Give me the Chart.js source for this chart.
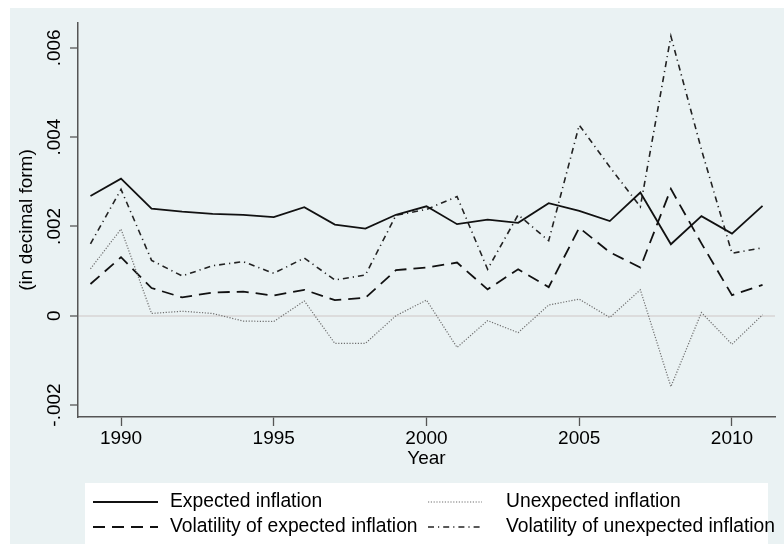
<!DOCTYPE html>
<html>
<head>
<meta charset="utf-8">
<script src="https://cdn.jsdelivr.net/npm/chart.js@4/dist/chart.umd.min.js"></script>
<style>
html,body{margin:0;padding:0;background:#fff;}
#wrap{width:784px;height:544px;position:relative;}
</style>
</head>
<body>
<div id="wrap"><canvas id="c" width="784" height="544"></canvas></div>
<script>
// ---- data ----
const years = [1989,1990,1991,1992,1993,1994,1995,1996,1997,1998,1999,2000,2001,2002,2003,2004,2005,2006,2007,2008,2009,2010,2011];
const expectedInflation = [0.00268,0.00307,0.00240,0.00233,0.00228,0.00226,0.00221,0.00243,0.00204,0.00195,0.00226,0.00245,0.00205,0.00215,0.00208,0.00252,0.00235,0.00212,0.00276,0.00160,0.00223,0.00184,0.00246];
const unexpectedInflation = [0.00105,0.00194,0.00005,0.00010,0.00005,-0.00012,-0.00013,0.00033,-0.00062,-0.00062,0.00000,0.00035,-0.00071,-0.00011,-0.00038,0.00024,0.00037,-0.00004,0.00058,-0.00159,0.00007,-0.00064,0.00002];
const volExpectedInflation = [0.00071,0.00131,0.00062,0.00041,0.00052,0.00054,0.00045,0.00058,0.00035,0.00040,0.00102,0.00108,0.00119,0.00059,0.00104,0.00064,0.00197,0.00142,0.00108,0.00284,0.00162,0.00046,0.00069];
const volUnexpectedInflation = [0.00161,0.00283,0.00124,0.00089,0.00112,0.00121,0.00095,0.00129,0.00080,0.00091,0.00225,0.00238,0.00267,0.00104,0.00226,0.00168,0.00427,0.00333,0.00244,0.00626,0.00372,0.00140,0.00152];
const seriesNames = ['Expected inflation','Unexpected inflation','Volatility of expected inflation','Volatility of unexpected inflation'];
const xTickValues = [1990,1995,2000,2005,2010];
const yTickValues = [-0.002,0,0.002,0.004,0.006];
const yTickLabels = ['-.002','0','.002','.004','.006'];
const xTitle = 'Year';
const yTitle = '(in decimal form)';

const FONT = 'Liberation Sans, Arial, Helvetica, sans-serif';
Chart.defaults.font.family = FONT;
Chart.defaults.color = '#000';

const toPts = vals => years.map((yr, i) => ({x: yr, y: vals[i]}));

const bgPlugin = {
  id: 'bg',
  beforeDraw(chart) {
    const ctx = chart.ctx;
    ctx.save();
    ctx.fillStyle = '#ffffff';
    ctx.fillRect(0, 0, chart.width, chart.height);
    ctx.fillStyle = '#eaf2f3';
    ctx.fillRect(10, 8, chart.width - 10, chart.height - 8);
    ctx.restore();
  }
};

const legendPlugin = {
  id: 'stataLegend',
  afterDraw(chart) {
    const ctx = chart.ctx;
    ctx.save();
    ctx.fillStyle = '#ffffff';
    ctx.fillRect(85, 483, 683, 70);
    const cols = [{s0: 93, s1: 158, tx: 170}, {s0: 428, s1: 482, tx: 506}];
    const rows = [502, 527];
    chart.data.datasets.forEach((ds, i) => {
      const c = cols[i % 2], r = rows[Math.floor(i / 2)];
      ctx.beginPath();
      ctx.strokeStyle = ds.borderColor;
      ctx.lineWidth = ds.borderWidth;
      ctx.setLineDash(ds.borderDash || []);
      ctx.moveTo(c.s0, r);
      ctx.lineTo(c.s1, r);
      ctx.stroke();
      ctx.setLineDash([]);
      ctx.fillStyle = '#000';
      ctx.font = '19.3px ' + FONT;
      ctx.textBaseline = 'middle';
      ctx.textAlign = 'left';
      ctx.fillText(ds.label, c.tx, r);
    });
    ctx.restore();
  }
};

new Chart(document.getElementById('c'), {
  type: 'line',
  data: {
    datasets: [
      {label: seriesNames[0], data: toPts(expectedInflation), borderColor: '#111', borderWidth: 1.8, borderDash: []},
      {label: seriesNames[1], data: toPts(unexpectedInflation), borderColor: '#6f6f6f', borderWidth: 1.2, borderDash: [1.2, 1.6]},
      {label: seriesNames[2], data: toPts(volExpectedInflation), borderColor: '#111', borderWidth: 1.8, borderDash: [12, 7]},
      {label: seriesNames[3], data: toPts(volUnexpectedInflation), borderColor: '#222', borderWidth: 1.6, borderDash: [6, 4, 1.2, 4]}
    ].map(d => Object.assign(d, {pointRadius: 0, tension: 0, fill: false}))
  },
  options: {
    responsive: false,
    animation: false,
    devicePixelRatio: 1,
    layout: {padding: {left: 10, top: 23, right: 9, bottom: 0}},
    plugins: {legend: {display: false}, tooltip: {enabled: false}},
    scales: {
      x: {
        type: 'linear',
        min: 1988.592,
        max: 2011.408,
        afterBuildTicks: s => { s.ticks = xTickValues.map(v => ({value: v})); },
        afterFit: s => { s.height = 127; },
        ticks: {
          autoSkip: false,
          maxRotation: 0,
          minRotation: 0,
          padding: 1,
          font: {size: 19, family: FONT},
          color: '#000',
          callback: v => String(v)
        },
        grid: {drawOnChartArea: false, drawTicks: true, tickLength: 9, tickColor: '#555', tickWidth: 1.3},
        border: {display: true, color: '#555', width: 1.5},
        title: {display: true, text: xTitle, font: {size: 19, family: FONT}, color: '#000', padding: {top: 0, bottom: 73.6}}
      },
      y: {
        type: 'linear',
        min: -0.002269,
        max: 0.006556,
        afterBuildTicks: s => { s.ticks = yTickValues.map(v => ({value: v})); },
        afterFit: s => { s.width = 68; },
        ticks: {
          autoSkip: false,
          minRotation: 90,
          maxRotation: 90,
          crossAlign: 'center',
          padding: -6,
          font: {size: 19, family: FONT},
          color: '#000',
          callback: (v) => { const i = yTickValues.findIndex(t => Math.abs(t - v) < 1e-9); return i >= 0 ? yTickLabels[i] : ''; }
        },
        grid: {
          drawOnChartArea: true,
          drawTicks: true,
          tickLength: 8,
          tickColor: '#555',
          tickWidth: 1.3,
          color: c => (c.tick && Math.abs(c.tick.value) < 1e-12) ? '#dcdcdc' : 'rgba(0,0,0,0)',
          lineWidth: 2
        },
        border: {display: true, color: '#555', width: 1.5},
        title: {display: true, text: yTitle, font: {size: 19, family: FONT}, color: '#000', padding: {top: 5, bottom: 0}}
      }
    }
  },
  plugins: [bgPlugin, legendPlugin]
});
</script>
</body>
</html>
